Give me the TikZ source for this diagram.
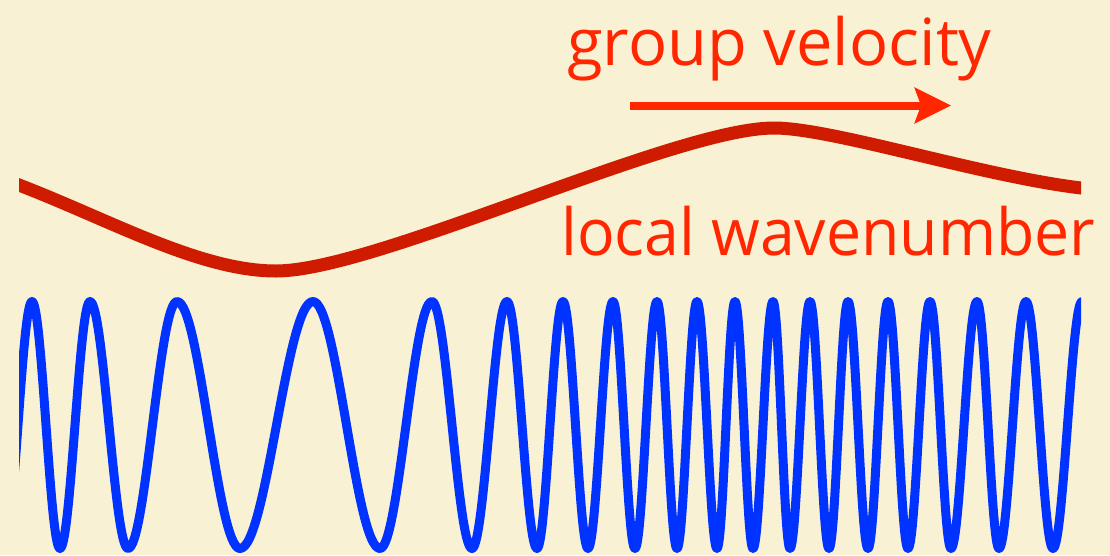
\documentclass[tikz,border=0pt]{standalone}
\usepackage{fontspec}
\usepackage{graphicx}
\newfontfamily\labelfont{Open Sans}
\usetikzlibrary{arrows.meta}
\definecolor{bgcream}{RGB}{249,241,211}
\definecolor{textred}{RGB}{255,38,0}
\definecolor{curvered}{RGB}{207,28,0}
\definecolor{waveblue}{RGB}{0,51,255}
\tikzset{
  labeltext/.style={text=textred, font=\labelfont\fontsize{65}{70}\selectfont, inner sep=0pt, anchor=base west},
  kcurve/.style={draw=curvered, line width=13pt, line join=round},
  wavecurve/.style={draw=waveblue, line width=9pt, line join=round},
  gvarrow/.style={draw=textred, line width=8pt, -{Stealth[length=36pt,width=35pt,inset=6pt]}}
}
\begin{document}
\begin{tikzpicture}[x=1pt,y=-1pt]
\useasboundingbox (0,0) rectangle (1110,555);
\fill[bgcream] (0,0) rectangle (1110,555);

% labels
\node[labeltext] (gv) at (567,65) {group velocity};
\node[labeltext] (lw) at (561,255) {\resizebox{534pt}{\height}{local wavenumber}};

% group velocity arrow
\coordinate (gvs) at (630,105.5);
\coordinate (gve) at (951,105.5);
\draw[gvarrow] (gvs) -- (gve);

\begin{scope}
\clip (19,0) rectangle (1081,555);
% local wavenumber curve
\draw[kcurve] (-10,174) -- (19,185)
  .. controls (110,220) and (200,271) .. (276,271)
  .. controls (376,271) and (674,128) .. (774,128)
  .. controls (832,128) and (981,176) .. (1081,188)
  -- (1110,191.5);
% wave
\draw[wavecurve] (4,548.5)
  cos (18,425) sin (32,301.5) cos (46,425) sin (60,548.5)
  cos (75,425) sin (90,301.5) cos (109,425) sin (128,548.5)
  cos (152.5,425) sin (177,301.5) cos (208.5,425) sin (240,548.5)
  cos (276.5,425) sin (313,301.5) cos (346.5,425) sin (380,548.5)
  cos (406,425) sin (432,301.5) cos (452,425) sin (472,548.5)
  cos (489.5,425) sin (507,301.5) cos (522,425) sin (537,548.5)
  cos (550,425) sin (563,301.5) cos (575.5,425) sin (588,548.5)
  cos (600.5,425) sin (613,301.5) cos (624,425) sin (635,548.5)
  cos (646,425) sin (657,301.5) cos (667,425) sin (677,548.5)
  cos (687,425) sin (697,301.5) cos (707,425) sin (717,548.5)
  cos (726,425) sin (735,301.5) cos (744,425) sin (753,548.5)
  cos (763,425) sin (773,301.5) cos (781.5,425) sin (790,548.5)
  cos (800,425) sin (810,301.5) cos (819.5,425) sin (829,548.5)
  cos (838.5,425) sin (848,301.5) cos (858,425) sin (868,548.5)
  cos (878,425) sin (888,301.5) cos (898,425) sin (908,548.5)
  cos (919,425) sin (930,301.5) cos (940.5,425) sin (951,548.5)
  cos (964,425) sin (977,301.5) cos (988,425) sin (999,548.5)
  cos (1012.5,425) sin (1026,301.5) cos (1039.5,425) sin (1053,548.5)
  cos (1067.5,425) sin (1082,301.5) cos (1095.5,425) sin (1109,548.5);
\end{scope}
\end{tikzpicture}
\end{document}
